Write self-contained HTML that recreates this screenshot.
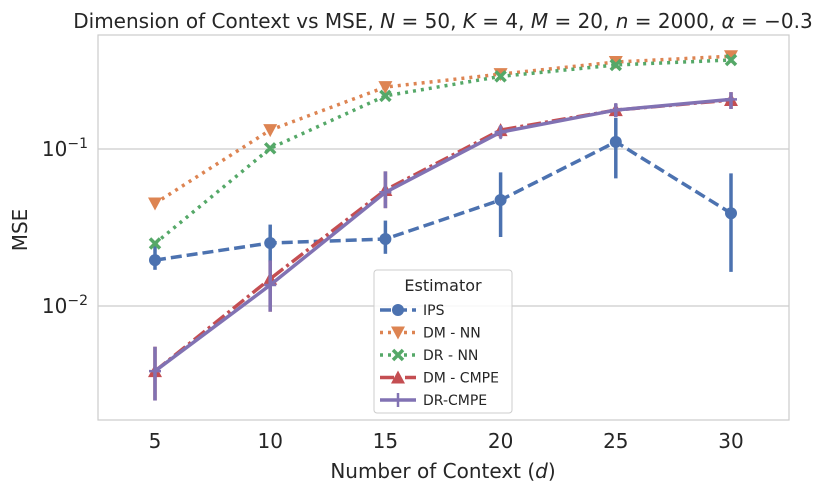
<!DOCTYPE html>
<html><head><meta charset="utf-8"><style>
body{margin:0;background:#fff;font-family:"Liberation Sans","DejaVu Sans",sans-serif}
svg text{font-family:"DejaVu Sans","Liberation Sans",sans-serif;fill:#262626}
</style></head><body>
<svg id="c" width="826" height="493" xmlns="http://www.w3.org/2000/svg">
<text x="443" y="28" font-size="20" text-anchor="middle">Dimension of Context vs MSE, <tspan font-style="italic">N</tspan> = 50, <tspan font-style="italic">K</tspan> = 4, <tspan font-style="italic">M</tspan> = 20, <tspan font-style="italic">n</tspan> = 2000, <tspan font-style="italic">α</tspan> = −0.3</text>
<g id="grid"></g>
<rect x="98" y="35" width="691" height="385" fill="none" stroke="#ccc" stroke-width="1.2"/>
<g id="series"></g>
<text x="443" y="478" font-size="20" text-anchor="middle">Number of Context (<tspan font-style="italic">d</tspan>)</text>
<text x="27" y="230" font-size="20" text-anchor="middle" transform="rotate(-90 27 230)">MSE</text>
<g id="legend"></g>
</svg>
<script>
const categories=[5,10,15,20,25,30];
const ips=[0.0196,0.0252,0.0267,0.0473,0.111,0.039];
const ipsLo=[0.017,0.019,0.0215,0.0275,0.065,0.0165];
const ipsHi=[0.0255,0.033,0.035,0.071,0.158,0.07];
const dmNN=[0.045,0.132,0.248,0.30,0.358,0.39];
const drNN=[0.025,0.101,0.218,0.29,0.343,0.369];
const dmCMPE=[0.00385,0.0149,0.0548,0.132,0.177,0.205];
const drCMPE=[0.00385,0.0136,0.053,0.128,0.177,0.207];
const cmpeLo=[0.0025,0.0092,0.042,0.118,0.16,0.18];
const cmpeHi=[0.0055,0.0195,0.072,0.14,0.195,0.23];
const xTicks=[5,10,15,20,25,30];
const yTicks=[-1,-2];
const NS="http://www.w3.org/2000/svg";
const X=v=>155+(v-5)*23.04;
const Y=v=>149-(Math.log10(v)+1)*157;
function el(t,a,p){const e=document.createElementNS(NS,t);for(const k in a)e.setAttribute(k,a[k]);p.appendChild(e);return e;}
const g=document.getElementById('grid');
yTicks.forEach(p=>{const y=Y(Math.pow(10,p));
const l=el('line',{x1:98,x2:789,y1:y,y2:y,stroke:'#ccc','stroke-width':1.2},g);


const t=el('text',{x:88,y:y+7,'font-size':20,'text-anchor':'end'},g);


t.innerHTML='10<tspan dy="-8" font-size="14">−'+(-p)+'</tspan>';});
xTicks.forEach(v=>{const t=el('text',{x:X(v),y:448,'font-size':20,'text-anchor':'middle'},g);


t.textContent=v;});
const s=document.getElementById('series');
function marker(type,x,y,c,p){
 let m;
 if(type==='o')m=el('circle',{cx:x,cy:y,r:6,fill:c},p);
 else if(type==='v')m=el('path',{d:`M${x-7},${y-6}L${x+7},${y-6}L${x},${y+7}Z`,fill:c},p);
 else if(type==='^')m=el('path',{d:`M${x-7},${y+6}L${x+7},${y+6}L${x},${y-7}Z`,fill:c},p);
 else if(type==='x')m=el('path',{d:`M${x-5},${y-5}L${x+5},${y+5}M${x+5},${y-5}L${x-5},${y+5}`,stroke:c,'stroke-width':3.5},p);
 else m=el('path',{d:`M${x-6},${y}L${x+6},${y}M${x},${y-7}L${x},${y+7}`,stroke:c,'stroke-width':2.5},p);
 
 
}
function series(name,vals,c,dash,mk,lo,hi){
 const gg=el('g',{},s);
 
 
 if(lo)categories.forEach((d,i)=>{const e=el('line',{x1:X(d),x2:X(d),y1:Y(lo[i]),y2:Y(hi[i]),stroke:c,'stroke-width':3.5},gg);
  
  });
 const pl=el('polyline',{points:categories.map((d,i)=>X(d)+','+Y(vals[i])).join(' '),fill:'none',stroke:c,'stroke-width':3.5,'stroke-dasharray':dash},gg);
 
 
 categories.forEach((d,i)=>marker(mk,X(d),Y(vals[i]),c,gg));
}
series('ips',ips,'#4c72b0','11,5','o',ipsLo,ipsHi);
series('dm-nn',dmNN,'#dd8452','3,5','v');
series('dr-nn',drNN,'#55a868','3,5','x');
series('dm-cmpe',dmCMPE,'#c44e52','14,4,3,4','^',cmpeLo,cmpeHi);
series('dr-cmpe',drCMPE,'#8172b3','none','+',cmpeLo,cmpeHi);
const lg=document.getElementById('legend');
el('rect',{x:374,y:270,width:138,height:143,rx:3,fill:'#fff','fill-opacity':0.85,stroke:'#ccc'},lg);
const lt=el('text',{x:443,y:291,'font-size':16,'text-anchor':'middle'},lg);lt.textContent='Estimator';
const L=[['IPS','#4c72b0','11,5','o'],['DM - NN','#dd8452','3,5','v'],['DR - NN','#55a868','3,5','x'],['DM - CMPE','#c44e52','14,4,3,4','^'],['DR-CMPE','#8172b3','none','+']];
L.forEach((e,i)=>{const y=310+i*22.5;
 const it=el('g',{},lg);
 
 
 el('line',{x1:380,x2:416,y1:y,y2:y,stroke:e[1],'stroke-width':3.5,'stroke-dasharray':e[2]},it);
 marker(e[3],398,y,e[1],it);
 const t=el('text',{x:423,y:y+5,'font-size':14},it);t.textContent=e[0];});
</script>
</body></html>
